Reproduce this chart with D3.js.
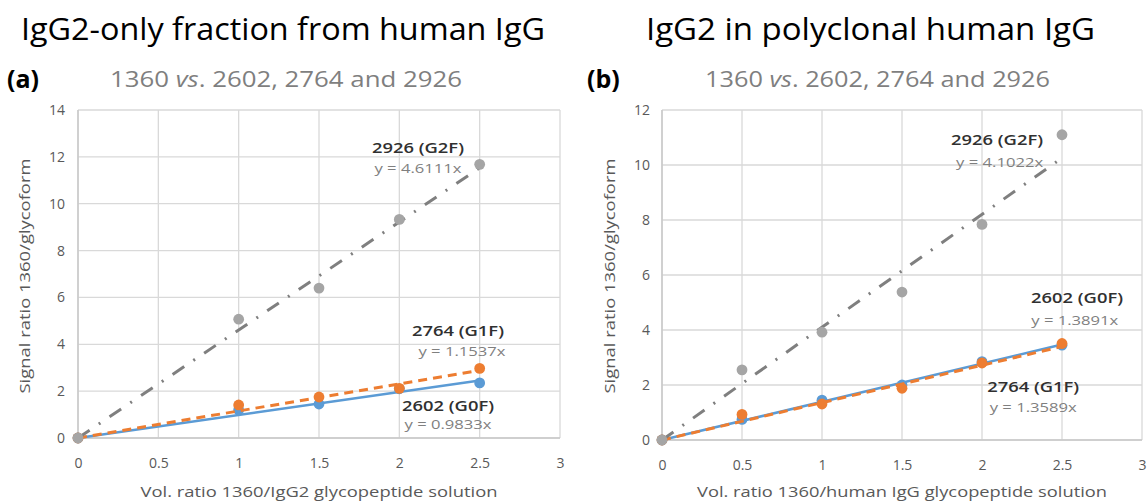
<!DOCTYPE html>
<html>
<head>
<meta charset="utf-8">
<script src="https://cdn.jsdelivr.net/npm/d3@7"></script>
<style>
  html, body { margin: 0; padding: 0; background: #fff; }
  svg { display: block; font-family: "Open Sans", "Noto Sans", sans-serif; }
</style>
</head>
<body>
<svg id="chart" width="1147" height="501"></svg>
<script>
// ---------------- data ----------------
const xTickValues = [0, 0.5, 1, 1.5, 2, 2.5, 3];
const seriesNames = ["2602 (G0F)", "2764 (G1F)", "2926 (G2F)"];

// Panel (a): IgG2-only fraction
const aVolRatio = [0, 1, 1.5, 2, 2.5];
const aG0F = [0, 1.2, 1.45, 2.1, 2.35];
const aG1F = [0, 1.41, 1.75, 2.12, 2.97];
const aG2F = [0, 5.07, 6.4, 9.33, 11.68];
const aSlopes = [0.9833, 1.1537, 4.6111];
const aYTicks = [0, 2, 4, 6, 8, 10, 12, 14];

// Panel (b): IgG2 in polyclonal human IgG
const bVolRatio = [0, 0.5, 1, 1.5, 2, 2.5];
const bG0F = [0, 0.75, 1.45, 2.0, 2.85, 3.45];
const bG1F = [0, 0.93, 1.31, 1.88, 2.8, 3.51];
const bG2F = [0, 2.55, 3.92, 5.38, 7.84, 11.1];
const bSlopes = [1.3891, 1.3589, 4.1022];
const bYTicks = [0, 2, 4, 6, 8, 10, 12];

// ---------------- styles ----------------
const colors = ["#5b9bd5", "#ed7d31", "#a5a5a5"];
const trendColors = ["#5b9bd5", "#ed7d31", "#7f7f7f"];
const trendDash = [null, "9,6", "14,11,2,11"];
const trendWidth = [2.5, 3, 3];

const svg = d3.select("#chart");

function drawPanel(cfg) {
  const g = svg.append("g");
  const x = d3.scaleLinear().domain([0, 3]).range([cfg.left, cfg.right]);
  const y = d3.scaleLinear().domain([0, cfg.yMax]).range([cfg.bottom, cfg.top]);

  // gridlines
  g.append("g").selectAll("line.h").data(cfg.yTicks).join("line")
    .attr("x1", x(0)).attr("x2", x(3))
    .attr("y1", d => y(d)).attr("y2", d => y(d))
    .attr("stroke", "#d9d9d9").attr("stroke-width", 1.3);
  g.append("g").selectAll("line.v").data(xTickValues).join("line")
    .attr("x1", d => x(d)).attr("x2", d => x(d))
    .attr("y1", y(0)).attr("y2", y(cfg.yMax))
    .attr("stroke", "#d9d9d9").attr("stroke-width", 1.3);
  // axis lines
  g.append("line").attr("x1", x(0)).attr("x2", x(0)).attr("y1", y(0)).attr("y2", y(cfg.yMax))
    .attr("stroke", "#c8c8c8").attr("stroke-width", 1.5);
  g.append("line").attr("x1", x(0)).attr("x2", x(3)).attr("y1", y(0)).attr("y2", y(0))
    .attr("stroke", "#c8c8c8").attr("stroke-width", 1.5);

  // axes labels
  const ax = g.append("g").attr("transform", `translate(0,${y(0)})`)
    .call(d3.axisBottom(x).tickValues(xTickValues).tickSize(0).tickPadding(20).tickFormat(d3.format("")));
  ax.select(".domain").remove();
  ax.selectAll("text").attr("font-size", 14).attr("fill", "#595959").attr("font-family", "'Open Sans', sans-serif");

  const ay = g.append("g").attr("transform", `translate(${x(0)},0)`)
    .call(d3.axisLeft(y).tickValues(cfg.yTicks).tickSize(0).tickPadding(cfg.yPad).tickFormat(d3.format("")));
  ay.select(".domain").remove();
  ay.selectAll("text").attr("font-size", 14).attr("fill", "#595959").attr("font-family", "'Open Sans', sans-serif");

  // trendlines (y = slope * x from 0 to max x), then markers
  const xMax = d3.max(cfg.xs);
  cfg.series.forEach((vals, i) => {
    const line = d3.line().x(d => x(d[0])).y(d => y(d[1]));
    const pts = [[0, 0], [xMax, cfg.slopes[i] * xMax]];
    const p = g.append("path").datum(pts).attr("d", line)
      .attr("fill", "none").attr("stroke", trendColors[i]).attr("stroke-width", trendWidth[i]);
    if (trendDash[i]) p.attr("stroke-dasharray", trendDash[i]);
    g.append("g").selectAll("circle").data(cfg.xs.map((xv, k) => [xv, vals[k]])).join("circle")
      .attr("cx", d => x(d[0])).attr("cy", d => y(d[1])).attr("r", 5.4)
      .attr("fill", colors[i]);
  });

  // series annotations
  cfg.labels.forEach((lb, i) => {
    g.append("text").attr("x", x(lb.nx)).attr("y", y(lb.ny))
      .attr("text-anchor", "middle").attr("font-size", 15).attr("font-weight", 600).attr("fill", "#303030")
      .attr("textLength", 92).attr("lengthAdjust", "spacingAndGlyphs")
      .text(seriesNames[i]);
    g.append("text").attr("x", x(lb.ex)).attr("y", y(lb.ey))
      .attr("text-anchor", "middle").attr("font-size", 13.5).attr("fill", "#7f7f7f")
      .attr("textLength", 87).attr("lengthAdjust", "spacingAndGlyphs")
      .text("y = " + d3.format(".4f")(cfg.slopes[i]) + "x");
  });

  // axis titles
  g.append("text").attr("x", cfg.xTitleX).attr("y", 497).attr("text-anchor", "middle")
    .attr("font-size", 15).attr("fill", "#595959")
    .attr("textLength", cfg.xTitleLen).attr("lengthAdjust", "spacingAndGlyphs")
    .text(cfg.xTitle);
  g.append("text").attr("transform", `translate(${cfg.yTitleX},276) rotate(-90)`)
    .attr("text-anchor", "middle").attr("font-size", 15).attr("fill", "#595959")
    .attr("textLength", 235).attr("lengthAdjust", "spacingAndGlyphs")
    .text("Signal ratio 1360/glycoform");

  // headings
  g.append("text").attr("x", cfg.titleX).attr("y", 40).attr("font-size", 31).attr("fill", "#000")
    .attr("textLength", cfg.titleLen).attr("lengthAdjust", "spacingAndGlyphs")
    .text(cfg.title);
  g.append("text").attr("x", cfg.tagX).attr("y", 88).attr("font-size", 25).attr("font-weight", "bold")
    .attr("fill", "#000").text(cfg.tag);
  const st = g.append("text").attr("x", cfg.subX).attr("y", 87).attr("font-size", 22).attr("fill", "#7f7f7f")
    .attr("textLength", cfg.subLen).attr("lengthAdjust", "spacingAndGlyphs");
  st.append("tspan").text("1360 ");
  st.append("tspan").attr("font-style", "italic").text("vs");
  st.append("tspan").text(". 2602, 2764 and 2926");
}

drawPanel({
  left: 78, right: 560, top: 110, bottom: 438, yMax: 14, yTicks: aYTicks, yPad: 13,
  xs: aVolRatio, series: [aG0F, aG1F, aG2F], slopes: aSlopes,
  labels: [
    { nx: 2.303, ny: 1.15, ex: 2.303, ey: 0.40 },
    { nx: 2.365, ny: 4.35, ex: 2.39, ey: 3.48 },
    { nx: 2.116, ny: 12.16, ex: 2.116, ey: 11.31 }
  ],
  xTitle: "Vol. ratio 1360/IgG2 glycopeptide solution", xTitleX: 319, xTitleLen: 357, yTitleX: 30,
  title: "IgG2-only fraction from human IgG", titleX: 21, titleLen: 524,
  tag: "(a)", tagX: 7, subX: 110, subLen: 352
});

drawPanel({
  left: 662, right: 1142, top: 110, bottom: 440, yMax: 12, yTicks: bYTicks, yPad: 12,
  xs: bVolRatio, series: [bG0F, bG1F, bG2F], slopes: bSlopes,
  labels: [
    { nx: 2.594, ny: 4.98, ex: 2.58, ey: 4.18 },
    { nx: 2.32, ny: 1.75, ex: 2.32, ey: 1.02 },
    { nx: 2.094, ny: 10.73, ex: 2.11, ey: 9.93 }
  ],
  xTitle: "Vol. ratio 1360/human IgG glycopeptide solution", xTitleX: 902, xTitleLen: 410, yTitleX: 615,
  title: "IgG2 in polyclonal human IgG", titleX: 646, titleLen: 449,
  tag: "(b)", tagX: 587, subX: 705, subLen: 345
});
</script>
</body>
</html>
